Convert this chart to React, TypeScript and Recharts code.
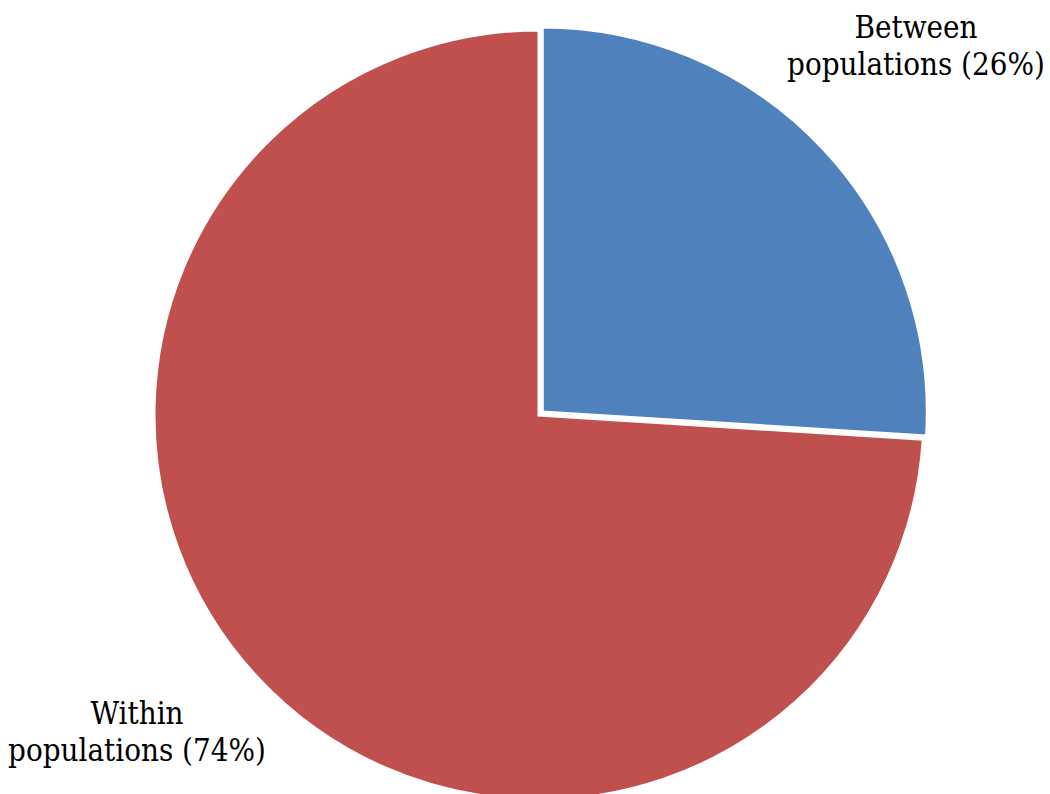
import React from 'react';
import { PieChart, Pie, Cell } from 'recharts';

const categories = ['Between populations', 'Within populations'];
const shares = [26, 74];
const colors = ['#4F81BD', '#C0504D'];
const explodedIndex = 0;

const data = categories.map((name, i) => ({ name, value: shares[i] }));

// where the two-line labels sit (middle of text block, first baseline)
const labelPos = [
    { x: 916, y: 38 },
    { x: 137, y: 724 },
];

const W = 1050;
const H = 794;
const CX = 539;
const CY = 415;
const R = 385;
const EXPLODE = 4.5;
const SERIF = 'DejaVu Serif Condensed';

function renderLabel(props: any) {
    const { index } = props;
    const pos = labelPos[index];
    const name = categories[index].split(' ');
    return (
        <text
            key={'lbl' + index}
            x={pos.x}
            y={pos.y}
            textAnchor={'middle'}
            fontFamily={SERIF}
            fontSize={31}
            fill={'#000'}
        >
            <tspan x={pos.x}>{name[0]}</tspan>
            <tspan x={pos.x} dy={37}>{name[1] + ' (' + shares[index] + '%)'}</tspan>
        </text>
    );
}

// mid angle of the exploded slice, used to push it outwards
function explodeOffset() {
    const total = shares.reduce((a, b) => a + b, 0);
    let before = 0;
    for (let i = 0; i < explodedIndex; i++) before += shares[i];
    const mid = 90 - ((before + shares[explodedIndex] / 2) / total) * 360;
    const rad = (mid * Math.PI) / 180;
    return { dx: Math.cos(rad) * EXPLODE, dy: -Math.sin(rad) * EXPLODE };
}

export default function App() {
    const off = explodeOffset();

    return (
        <div style={{ position: 'absolute', left: 0, top: 0, width: W, height: H, background: '#fff' }}>
            <PieChart width={W} height={H} margin={{ top: 0, right: 0, bottom: 0, left: 0 }}>
                <Pie
                    data={data}
                    dataKey={'value'}
                    cx={CX}
                    cy={CY}
                    outerRadius={R}
                    startAngle={90}
                    endAngle={-270}
                    isAnimationActive={false}
                    label={renderLabel}
                    labelLine={false}
                >
                    {data.map((d, i) => (
                        <Cell
                            key={d.name}
                            fill={i === explodedIndex ? 'transparent' : colors[i]}
                            stroke={i === explodedIndex ? 'none' : '#fff'}
                            strokeWidth={3}
                        />
                    ))}
                </Pie>
                <Pie
                    data={data}
                    dataKey={'value'}
                    cx={CX + off.dx}
                    cy={CY + off.dy}
                    outerRadius={R}
                    startAngle={90}
                    endAngle={-270}
                    isAnimationActive={false}
                >
                    {data.map((d, i) => (
                        <Cell
                            key={d.name}
                            fill={i === explodedIndex ? colors[i] : 'transparent'}
                            stroke={i === explodedIndex ? '#fff' : 'none'}
                            strokeWidth={3}
                        />
                    ))}
                </Pie>
            </PieChart>
        </div>
    );
}
